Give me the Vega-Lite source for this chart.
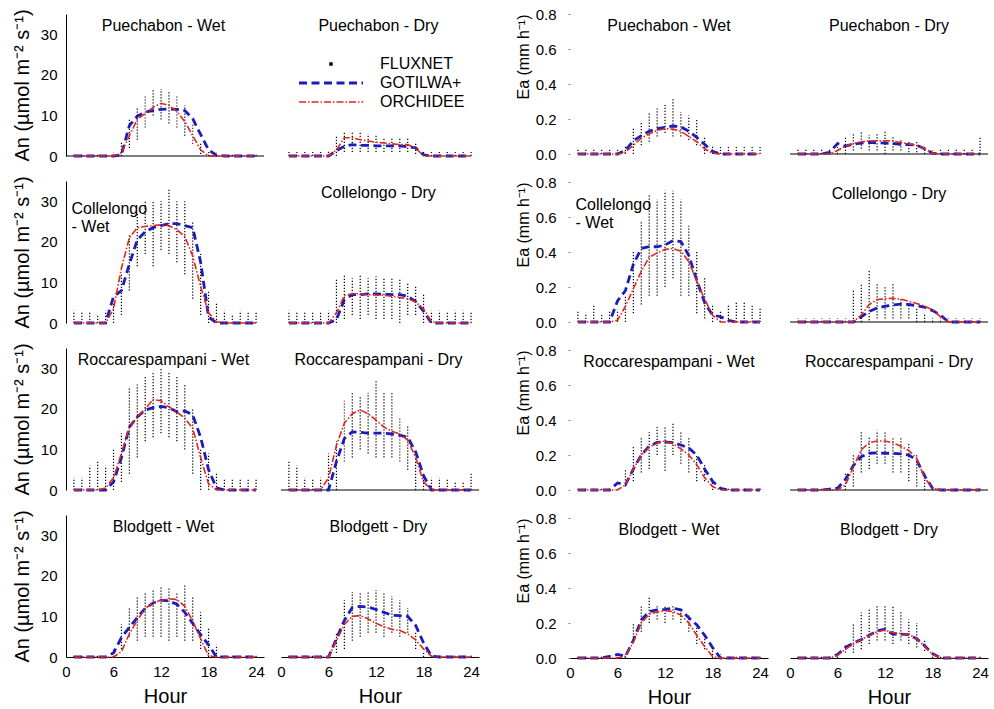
{
"$schema":"https://vega.github.io/schema/vega-lite/v6.json",
"padding":{"left":12,"top":7,"right":0,"bottom":0},
"config":{"view":{"stroke":null},"font":"Liberation Sans","axis":{"grid":false,"domainColor":"black","labelColor":"black","titleColor":"black","titleFontWeight":"normal","labelFont":"Liberation Sans","titleFont":"Liberation Sans","labelOverlap":false},"header":{"labels":false,"title":null},"concat":{"spacing":35}},
"datasets":{
"an":[
{"p":"Puechabon - Wet","h":1,"lo":0,"hi":0.6,"GOTILWA+":0,"ORCHIDEE":0},
{"p":"Puechabon - Wet","h":2,"lo":0,"hi":0.6,"GOTILWA+":0,"ORCHIDEE":0},
{"p":"Puechabon - Wet","h":3,"lo":0,"hi":0.6,"GOTILWA+":0,"ORCHIDEE":0},
{"p":"Puechabon - Wet","h":4,"lo":0,"hi":0.6,"GOTILWA+":0,"ORCHIDEE":0},
{"p":"Puechabon - Wet","h":5,"lo":0,"hi":0.6,"GOTILWA+":0,"ORCHIDEE":0},
{"p":"Puechabon - Wet","h":6,"lo":0,"hi":0.8,"GOTILWA+":0,"ORCHIDEE":0},
{"p":"Puechabon - Wet","h":7,"lo":0,"hi":3.5,"GOTILWA+":0.3,"ORCHIDEE":0.8},
{"p":"Puechabon - Wet","h":8,"lo":2,"hi":9,"GOTILWA+":7.5,"ORCHIDEE":5},
{"p":"Puechabon - Wet","h":9,"lo":4,"hi":12,"GOTILWA+":9.8,"ORCHIDEE":9},
{"p":"Puechabon - Wet","h":10,"lo":7,"hi":15,"GOTILWA+":10.8,"ORCHIDEE":10.5},
{"p":"Puechabon - Wet","h":11,"lo":10,"hi":16.5,"GOTILWA+":11.2,"ORCHIDEE":12},
{"p":"Puechabon - Wet","h":12,"lo":9,"hi":16.5,"GOTILWA+":11.5,"ORCHIDEE":13},
{"p":"Puechabon - Wet","h":13,"lo":8,"hi":16,"GOTILWA+":11.6,"ORCHIDEE":12.5},
{"p":"Puechabon - Wet","h":14,"lo":7,"hi":15,"GOTILWA+":11.5,"ORCHIDEE":11},
{"p":"Puechabon - Wet","h":15,"lo":5,"hi":12.5,"GOTILWA+":11.2,"ORCHIDEE":8.5},
{"p":"Puechabon - Wet","h":16,"lo":3,"hi":8,"GOTILWA+":9.2,"ORCHIDEE":5},
{"p":"Puechabon - Wet","h":17,"lo":0.5,"hi":3,"GOTILWA+":5.3,"ORCHIDEE":1.5},
{"p":"Puechabon - Wet","h":18,"lo":0,"hi":1,"GOTILWA+":1.5,"ORCHIDEE":0},
{"p":"Puechabon - Wet","h":19,"lo":0,"hi":0.8,"GOTILWA+":0.2,"ORCHIDEE":0},
{"p":"Puechabon - Wet","h":20,"lo":0,"hi":0.6,"GOTILWA+":0,"ORCHIDEE":0},
{"p":"Puechabon - Wet","h":21,"lo":0,"hi":0.6,"GOTILWA+":0,"ORCHIDEE":0},
{"p":"Puechabon - Wet","h":22,"lo":0,"hi":0.6,"GOTILWA+":0,"ORCHIDEE":0},
{"p":"Puechabon - Wet","h":23,"lo":0,"hi":0.6,"GOTILWA+":0,"ORCHIDEE":0},
{"p":"Puechabon - Wet","h":24,"lo":0,"hi":0.6,"GOTILWA+":0,"ORCHIDEE":0},
{"p":"Puechabon - Dry","h":1,"lo":0,"hi":1,"GOTILWA+":0,"ORCHIDEE":0},
{"p":"Puechabon - Dry","h":2,"lo":0,"hi":1,"GOTILWA+":0,"ORCHIDEE":0},
{"p":"Puechabon - Dry","h":3,"lo":0,"hi":1,"GOTILWA+":0,"ORCHIDEE":0},
{"p":"Puechabon - Dry","h":4,"lo":0,"hi":1,"GOTILWA+":0,"ORCHIDEE":0},
{"p":"Puechabon - Dry","h":5,"lo":0,"hi":1,"GOTILWA+":0,"ORCHIDEE":0},
{"p":"Puechabon - Dry","h":6,"lo":0,"hi":1.5,"GOTILWA+":0,"ORCHIDEE":0},
{"p":"Puechabon - Dry","h":7,"lo":0,"hi":5,"GOTILWA+":1.3,"ORCHIDEE":1.5},
{"p":"Puechabon - Dry","h":8,"lo":1,"hi":6,"GOTILWA+":2.4,"ORCHIDEE":4.5},
{"p":"Puechabon - Dry","h":9,"lo":1,"hi":6,"GOTILWA+":2.8,"ORCHIDEE":4.5},
{"p":"Puechabon - Dry","h":10,"lo":1,"hi":6,"GOTILWA+":2.6,"ORCHIDEE":4},
{"p":"Puechabon - Dry","h":11,"lo":1,"hi":5.5,"GOTILWA+":2.6,"ORCHIDEE":3.7},
{"p":"Puechabon - Dry","h":12,"lo":1,"hi":5,"GOTILWA+":2.5,"ORCHIDEE":3.4},
{"p":"Puechabon - Dry","h":13,"lo":1,"hi":4.5,"GOTILWA+":2.5,"ORCHIDEE":3.2},
{"p":"Puechabon - Dry","h":14,"lo":1,"hi":4.5,"GOTILWA+":2.5,"ORCHIDEE":3},
{"p":"Puechabon - Dry","h":15,"lo":1,"hi":4.5,"GOTILWA+":2.5,"ORCHIDEE":2.8},
{"p":"Puechabon - Dry","h":16,"lo":1,"hi":4.5,"GOTILWA+":2.3,"ORCHIDEE":2.8},
{"p":"Puechabon - Dry","h":17,"lo":0.5,"hi":3,"GOTILWA+":2,"ORCHIDEE":2},
{"p":"Puechabon - Dry","h":18,"lo":0,"hi":1,"GOTILWA+":0.3,"ORCHIDEE":0},
{"p":"Puechabon - Dry","h":19,"lo":0,"hi":1,"GOTILWA+":0,"ORCHIDEE":0},
{"p":"Puechabon - Dry","h":20,"lo":0,"hi":1,"GOTILWA+":0,"ORCHIDEE":0},
{"p":"Puechabon - Dry","h":21,"lo":0,"hi":1,"GOTILWA+":0,"ORCHIDEE":0},
{"p":"Puechabon - Dry","h":22,"lo":0,"hi":1,"GOTILWA+":0,"ORCHIDEE":0},
{"p":"Puechabon - Dry","h":23,"lo":0,"hi":1,"GOTILWA+":0,"ORCHIDEE":0},
{"p":"Puechabon - Dry","h":24,"lo":0,"hi":1,"GOTILWA+":0,"ORCHIDEE":0},
{"p":"Collelongo - Wet","h":1,"lo":0,"hi":3,"GOTILWA+":0,"ORCHIDEE":0},
{"p":"Collelongo - Wet","h":2,"lo":0,"hi":2.5,"GOTILWA+":0,"ORCHIDEE":0},
{"p":"Collelongo - Wet","h":3,"lo":0,"hi":2.5,"GOTILWA+":0,"ORCHIDEE":0},
{"p":"Collelongo - Wet","h":4,"lo":0,"hi":2,"GOTILWA+":0,"ORCHIDEE":0},
{"p":"Collelongo - Wet","h":5,"lo":0,"hi":3,"GOTILWA+":0,"ORCHIDEE":0},
{"p":"Collelongo - Wet","h":6,"lo":0,"hi":5,"GOTILWA+":6.5,"ORCHIDEE":3.5},
{"p":"Collelongo - Wet","h":7,"lo":2,"hi":12,"GOTILWA+":8,"ORCHIDEE":13.5},
{"p":"Collelongo - Wet","h":8,"lo":8,"hi":22,"GOTILWA+":14.5,"ORCHIDEE":21},
{"p":"Collelongo - Wet","h":9,"lo":14,"hi":27,"GOTILWA+":20.5,"ORCHIDEE":23.5},
{"p":"Collelongo - Wet","h":10,"lo":17,"hi":30,"GOTILWA+":22.5,"ORCHIDEE":23.8},
{"p":"Collelongo - Wet","h":11,"lo":14,"hi":30,"GOTILWA+":23.5,"ORCHIDEE":24},
{"p":"Collelongo - Wet","h":12,"lo":18,"hi":30,"GOTILWA+":24,"ORCHIDEE":24.2},
{"p":"Collelongo - Wet","h":13,"lo":17,"hi":33,"GOTILWA+":24.5,"ORCHIDEE":24},
{"p":"Collelongo - Wet","h":14,"lo":15,"hi":30,"GOTILWA+":24.5,"ORCHIDEE":23},
{"p":"Collelongo - Wet","h":15,"lo":12,"hi":30,"GOTILWA+":24,"ORCHIDEE":21.3},
{"p":"Collelongo - Wet","h":16,"lo":6,"hi":25,"GOTILWA+":23.5,"ORCHIDEE":16.5},
{"p":"Collelongo - Wet","h":17,"lo":2,"hi":17,"GOTILWA+":15,"ORCHIDEE":9},
{"p":"Collelongo - Wet","h":18,"lo":0,"hi":8,"GOTILWA+":1.5,"ORCHIDEE":2.5},
{"p":"Collelongo - Wet","h":19,"lo":0,"hi":5,"GOTILWA+":0,"ORCHIDEE":0.3},
{"p":"Collelongo - Wet","h":20,"lo":0,"hi":3,"GOTILWA+":0,"ORCHIDEE":0},
{"p":"Collelongo - Wet","h":21,"lo":0,"hi":2,"GOTILWA+":0,"ORCHIDEE":0},
{"p":"Collelongo - Wet","h":22,"lo":0,"hi":3,"GOTILWA+":0,"ORCHIDEE":0},
{"p":"Collelongo - Wet","h":23,"lo":0,"hi":2.5,"GOTILWA+":0,"ORCHIDEE":0},
{"p":"Collelongo - Wet","h":24,"lo":0,"hi":2.5,"GOTILWA+":0,"ORCHIDEE":0},
{"p":"Collelongo - Dry","h":1,"lo":0,"hi":3,"GOTILWA+":0,"ORCHIDEE":0},
{"p":"Collelongo - Dry","h":2,"lo":0,"hi":2.5,"GOTILWA+":0,"ORCHIDEE":0},
{"p":"Collelongo - Dry","h":3,"lo":0,"hi":2.5,"GOTILWA+":0,"ORCHIDEE":0},
{"p":"Collelongo - Dry","h":4,"lo":0,"hi":2.5,"GOTILWA+":0,"ORCHIDEE":0},
{"p":"Collelongo - Dry","h":5,"lo":0,"hi":2.5,"GOTILWA+":0,"ORCHIDEE":0},
{"p":"Collelongo - Dry","h":6,"lo":0,"hi":3,"GOTILWA+":0,"ORCHIDEE":0},
{"p":"Collelongo - Dry","h":7,"lo":0,"hi":11,"GOTILWA+":0.8,"ORCHIDEE":2.5},
{"p":"Collelongo - Dry","h":8,"lo":1,"hi":12,"GOTILWA+":5.8,"ORCHIDEE":6.8},
{"p":"Collelongo - Dry","h":9,"lo":2,"hi":11,"GOTILWA+":7,"ORCHIDEE":7.2},
{"p":"Collelongo - Dry","h":10,"lo":1,"hi":12,"GOTILWA+":7,"ORCHIDEE":7.2},
{"p":"Collelongo - Dry","h":11,"lo":2,"hi":11,"GOTILWA+":7.2,"ORCHIDEE":7},
{"p":"Collelongo - Dry","h":12,"lo":1,"hi":11.5,"GOTILWA+":7.2,"ORCHIDEE":6.9},
{"p":"Collelongo - Dry","h":13,"lo":1,"hi":11,"GOTILWA+":7.1,"ORCHIDEE":6.8},
{"p":"Collelongo - Dry","h":14,"lo":1,"hi":11,"GOTILWA+":7,"ORCHIDEE":6.6},
{"p":"Collelongo - Dry","h":15,"lo":0,"hi":11,"GOTILWA+":7,"ORCHIDEE":6.3},
{"p":"Collelongo - Dry","h":16,"lo":2,"hi":10,"GOTILWA+":6.6,"ORCHIDEE":6},
{"p":"Collelongo - Dry","h":17,"lo":2,"hi":9,"GOTILWA+":5.3,"ORCHIDEE":5.2},
{"p":"Collelongo - Dry","h":18,"lo":0,"hi":7,"GOTILWA+":2.9,"ORCHIDEE":3.5},
{"p":"Collelongo - Dry","h":19,"lo":0,"hi":3,"GOTILWA+":0,"ORCHIDEE":0.3},
{"p":"Collelongo - Dry","h":20,"lo":0,"hi":3,"GOTILWA+":0,"ORCHIDEE":0},
{"p":"Collelongo - Dry","h":21,"lo":0,"hi":2.5,"GOTILWA+":0,"ORCHIDEE":0},
{"p":"Collelongo - Dry","h":22,"lo":0,"hi":3,"GOTILWA+":0,"ORCHIDEE":0},
{"p":"Collelongo - Dry","h":23,"lo":0,"hi":3,"GOTILWA+":0,"ORCHIDEE":0},
{"p":"Collelongo - Dry","h":24,"lo":0,"hi":2.5,"GOTILWA+":0,"ORCHIDEE":0},
{"p":"Roccarespampani - Wet","h":1,"lo":0,"hi":3,"GOTILWA+":0,"ORCHIDEE":0},
{"p":"Roccarespampani - Wet","h":2,"lo":0,"hi":3,"GOTILWA+":0,"ORCHIDEE":0},
{"p":"Roccarespampani - Wet","h":3,"lo":0,"hi":6,"GOTILWA+":0,"ORCHIDEE":0},
{"p":"Roccarespampani - Wet","h":4,"lo":0,"hi":7,"GOTILWA+":0,"ORCHIDEE":0},
{"p":"Roccarespampani - Wet","h":5,"lo":0,"hi":6,"GOTILWA+":0,"ORCHIDEE":0.5},
{"p":"Roccarespampani - Wet","h":6,"lo":0,"hi":10,"GOTILWA+":2,"ORCHIDEE":3},
{"p":"Roccarespampani - Wet","h":7,"lo":2,"hi":14,"GOTILWA+":8,"ORCHIDEE":9},
{"p":"Roccarespampani - Wet","h":8,"lo":4,"hi":25,"GOTILWA+":15.5,"ORCHIDEE":15.5},
{"p":"Roccarespampani - Wet","h":9,"lo":8,"hi":26,"GOTILWA+":18,"ORCHIDEE":18},
{"p":"Roccarespampani - Wet","h":10,"lo":12,"hi":28,"GOTILWA+":19.7,"ORCHIDEE":20},
{"p":"Roccarespampani - Wet","h":11,"lo":13,"hi":29,"GOTILWA+":20.3,"ORCHIDEE":22.3},
{"p":"Roccarespampani - Wet","h":12,"lo":14,"hi":30,"GOTILWA+":20.6,"ORCHIDEE":22},
{"p":"Roccarespampani - Wet","h":13,"lo":13,"hi":29,"GOTILWA+":20.3,"ORCHIDEE":20.5},
{"p":"Roccarespampani - Wet","h":14,"lo":12,"hi":28,"GOTILWA+":19.3,"ORCHIDEE":19.2},
{"p":"Roccarespampani - Wet","h":15,"lo":10,"hi":26,"GOTILWA+":19.5,"ORCHIDEE":17.7},
{"p":"Roccarespampani - Wet","h":16,"lo":4,"hi":20,"GOTILWA+":18.5,"ORCHIDEE":15.2},
{"p":"Roccarespampani - Wet","h":17,"lo":0,"hi":10,"GOTILWA+":13,"ORCHIDEE":8},
{"p":"Roccarespampani - Wet","h":18,"lo":0,"hi":9,"GOTILWA+":5,"ORCHIDEE":1.5},
{"p":"Roccarespampani - Wet","h":19,"lo":0,"hi":4,"GOTILWA+":0.5,"ORCHIDEE":0},
{"p":"Roccarespampani - Wet","h":20,"lo":0,"hi":2.5,"GOTILWA+":0,"ORCHIDEE":0},
{"p":"Roccarespampani - Wet","h":21,"lo":0,"hi":2.5,"GOTILWA+":0,"ORCHIDEE":0},
{"p":"Roccarespampani - Wet","h":22,"lo":0,"hi":2.5,"GOTILWA+":0,"ORCHIDEE":0},
{"p":"Roccarespampani - Wet","h":23,"lo":0,"hi":2.5,"GOTILWA+":0,"ORCHIDEE":0},
{"p":"Roccarespampani - Wet","h":24,"lo":0,"hi":2.5,"GOTILWA+":0,"ORCHIDEE":0},
{"p":"Roccarespampani - Dry","h":1,"lo":0,"hi":7,"GOTILWA+":0,"ORCHIDEE":0},
{"p":"Roccarespampani - Dry","h":2,"lo":0,"hi":6,"GOTILWA+":0,"ORCHIDEE":0},
{"p":"Roccarespampani - Dry","h":3,"lo":0,"hi":3,"GOTILWA+":0,"ORCHIDEE":0},
{"p":"Roccarespampani - Dry","h":4,"lo":0,"hi":2.5,"GOTILWA+":0,"ORCHIDEE":0},
{"p":"Roccarespampani - Dry","h":5,"lo":0,"hi":3,"GOTILWA+":0,"ORCHIDEE":0},
{"p":"Roccarespampani - Dry","h":6,"lo":0,"hi":9,"GOTILWA+":0,"ORCHIDEE":3},
{"p":"Roccarespampani - Dry","h":7,"lo":0,"hi":12,"GOTILWA+":7,"ORCHIDEE":11},
{"p":"Roccarespampani - Dry","h":8,"lo":7,"hi":22,"GOTILWA+":12.7,"ORCHIDEE":16.5},
{"p":"Roccarespampani - Dry","h":9,"lo":8,"hi":24,"GOTILWA+":14.3,"ORCHIDEE":18.8},
{"p":"Roccarespampani - Dry","h":10,"lo":10,"hi":23,"GOTILWA+":14.2,"ORCHIDEE":19.7},
{"p":"Roccarespampani - Dry","h":11,"lo":9,"hi":24,"GOTILWA+":14,"ORCHIDEE":18.8},
{"p":"Roccarespampani - Dry","h":12,"lo":8,"hi":27,"GOTILWA+":14,"ORCHIDEE":17.2},
{"p":"Roccarespampani - Dry","h":13,"lo":8,"hi":24,"GOTILWA+":14,"ORCHIDEE":15.5},
{"p":"Roccarespampani - Dry","h":14,"lo":8,"hi":24,"GOTILWA+":13.8,"ORCHIDEE":14.5},
{"p":"Roccarespampani - Dry","h":15,"lo":7,"hi":18,"GOTILWA+":13.5,"ORCHIDEE":13.8},
{"p":"Roccarespampani - Dry","h":16,"lo":5,"hi":16,"GOTILWA+":13,"ORCHIDEE":12.3},
{"p":"Roccarespampani - Dry","h":17,"lo":0,"hi":8,"GOTILWA+":9.4,"ORCHIDEE":8},
{"p":"Roccarespampani - Dry","h":18,"lo":0,"hi":4,"GOTILWA+":3.5,"ORCHIDEE":2},
{"p":"Roccarespampani - Dry","h":19,"lo":0,"hi":3,"GOTILWA+":0,"ORCHIDEE":0},
{"p":"Roccarespampani - Dry","h":20,"lo":0,"hi":3,"GOTILWA+":0,"ORCHIDEE":0},
{"p":"Roccarespampani - Dry","h":21,"lo":0,"hi":2.5,"GOTILWA+":0,"ORCHIDEE":0},
{"p":"Roccarespampani - Dry","h":22,"lo":0,"hi":2,"GOTILWA+":0,"ORCHIDEE":0},
{"p":"Roccarespampani - Dry","h":23,"lo":0,"hi":2,"GOTILWA+":0,"ORCHIDEE":0},
{"p":"Roccarespampani - Dry","h":24,"lo":0,"hi":4,"GOTILWA+":0,"ORCHIDEE":0},
{"p":"Blodgett - Wet","h":1,"lo":0,"hi":0.3,"GOTILWA+":0,"ORCHIDEE":0},
{"p":"Blodgett - Wet","h":2,"lo":0,"hi":0.3,"GOTILWA+":0,"ORCHIDEE":0},
{"p":"Blodgett - Wet","h":3,"lo":0,"hi":0.3,"GOTILWA+":0,"ORCHIDEE":0},
{"p":"Blodgett - Wet","h":4,"lo":0,"hi":0.3,"GOTILWA+":0,"ORCHIDEE":0},
{"p":"Blodgett - Wet","h":5,"lo":0,"hi":0.3,"GOTILWA+":0,"ORCHIDEE":0},
{"p":"Blodgett - Wet","h":6,"lo":0,"hi":2,"GOTILWA+":1,"ORCHIDEE":0},
{"p":"Blodgett - Wet","h":7,"lo":2,"hi":8,"GOTILWA+":4.8,"ORCHIDEE":1.3},
{"p":"Blodgett - Wet","h":8,"lo":5,"hi":12,"GOTILWA+":7.3,"ORCHIDEE":5.7},
{"p":"Blodgett - Wet","h":9,"lo":4,"hi":15,"GOTILWA+":9.7,"ORCHIDEE":9},
{"p":"Blodgett - Wet","h":10,"lo":5,"hi":16,"GOTILWA+":12,"ORCHIDEE":12},
{"p":"Blodgett - Wet","h":11,"lo":5,"hi":16.5,"GOTILWA+":13.3,"ORCHIDEE":13.3},
{"p":"Blodgett - Wet","h":12,"lo":5,"hi":17.5,"GOTILWA+":14,"ORCHIDEE":14},
{"p":"Blodgett - Wet","h":13,"lo":4,"hi":17,"GOTILWA+":13.8,"ORCHIDEE":14.3},
{"p":"Blodgett - Wet","h":14,"lo":5,"hi":16,"GOTILWA+":13,"ORCHIDEE":14.2},
{"p":"Blodgett - Wet","h":15,"lo":4,"hi":18,"GOTILWA+":11,"ORCHIDEE":12.5},
{"p":"Blodgett - Wet","h":16,"lo":4,"hi":15,"GOTILWA+":8.3,"ORCHIDEE":8.8},
{"p":"Blodgett - Wet","h":17,"lo":2,"hi":11,"GOTILWA+":5.5,"ORCHIDEE":4.5},
{"p":"Blodgett - Wet","h":18,"lo":0,"hi":7,"GOTILWA+":3,"ORCHIDEE":0.3},
{"p":"Blodgett - Wet","h":19,"lo":0,"hi":3,"GOTILWA+":0,"ORCHIDEE":0},
{"p":"Blodgett - Wet","h":20,"lo":0,"hi":0.3,"GOTILWA+":0,"ORCHIDEE":0},
{"p":"Blodgett - Wet","h":21,"lo":0,"hi":0.3,"GOTILWA+":0,"ORCHIDEE":0},
{"p":"Blodgett - Wet","h":22,"lo":0,"hi":0.3,"GOTILWA+":0,"ORCHIDEE":0},
{"p":"Blodgett - Wet","h":23,"lo":0,"hi":0.3,"GOTILWA+":0,"ORCHIDEE":0},
{"p":"Blodgett - Wet","h":24,"lo":0,"hi":0.3,"GOTILWA+":0,"ORCHIDEE":0},
{"p":"Blodgett - Dry","h":1,"lo":0,"hi":0.3,"GOTILWA+":0,"ORCHIDEE":0},
{"p":"Blodgett - Dry","h":2,"lo":0,"hi":0.3,"GOTILWA+":0,"ORCHIDEE":0},
{"p":"Blodgett - Dry","h":3,"lo":0,"hi":0.3,"GOTILWA+":0,"ORCHIDEE":0},
{"p":"Blodgett - Dry","h":4,"lo":0,"hi":0.3,"GOTILWA+":0,"ORCHIDEE":0},
{"p":"Blodgett - Dry","h":5,"lo":0,"hi":0.3,"GOTILWA+":0,"ORCHIDEE":0},
{"p":"Blodgett - Dry","h":6,"lo":0,"hi":0.5,"GOTILWA+":0,"ORCHIDEE":0},
{"p":"Blodgett - Dry","h":7,"lo":1,"hi":6,"GOTILWA+":4.5,"ORCHIDEE":4},
{"p":"Blodgett - Dry","h":8,"lo":2,"hi":14,"GOTILWA+":9,"ORCHIDEE":8},
{"p":"Blodgett - Dry","h":9,"lo":4,"hi":16,"GOTILWA+":12.2,"ORCHIDEE":10},
{"p":"Blodgett - Dry","h":10,"lo":5,"hi":16,"GOTILWA+":12.5,"ORCHIDEE":10.2},
{"p":"Blodgett - Dry","h":11,"lo":6,"hi":16,"GOTILWA+":12.3,"ORCHIDEE":9.4},
{"p":"Blodgett - Dry","h":12,"lo":6,"hi":16.5,"GOTILWA+":11.7,"ORCHIDEE":8.3},
{"p":"Blodgett - Dry","h":13,"lo":5,"hi":16,"GOTILWA+":11,"ORCHIDEE":7.5},
{"p":"Blodgett - Dry","h":14,"lo":6,"hi":15,"GOTILWA+":10.3,"ORCHIDEE":6.8},
{"p":"Blodgett - Dry","h":15,"lo":5,"hi":14,"GOTILWA+":10.2,"ORCHIDEE":6.5},
{"p":"Blodgett - Dry","h":16,"lo":6,"hi":12,"GOTILWA+":10,"ORCHIDEE":5.7},
{"p":"Blodgett - Dry","h":17,"lo":2,"hi":6,"GOTILWA+":7.8,"ORCHIDEE":4.2},
{"p":"Blodgett - Dry","h":18,"lo":0,"hi":1,"GOTILWA+":3.5,"ORCHIDEE":2},
{"p":"Blodgett - Dry","h":19,"lo":0,"hi":0.3,"GOTILWA+":0.2,"ORCHIDEE":0.2},
{"p":"Blodgett - Dry","h":20,"lo":0,"hi":0.3,"GOTILWA+":0,"ORCHIDEE":0},
{"p":"Blodgett - Dry","h":21,"lo":0,"hi":0.3,"GOTILWA+":0,"ORCHIDEE":0},
{"p":"Blodgett - Dry","h":22,"lo":0,"hi":0.3,"GOTILWA+":0,"ORCHIDEE":0},
{"p":"Blodgett - Dry","h":23,"lo":0,"hi":0.3,"GOTILWA+":0,"ORCHIDEE":0},
{"p":"Blodgett - Dry","h":24,"lo":0,"hi":0.3,"GOTILWA+":0,"ORCHIDEE":0}
],
"ea":[
{"p":"Puechabon - Wet","h":1,"lo":0,"hi":0.03,"GOTILWA+":0,"ORCHIDEE":0},
{"p":"Puechabon - Wet","h":2,"lo":0,"hi":0.03,"GOTILWA+":0,"ORCHIDEE":0},
{"p":"Puechabon - Wet","h":3,"lo":0,"hi":0.03,"GOTILWA+":0,"ORCHIDEE":0},
{"p":"Puechabon - Wet","h":4,"lo":0,"hi":0.03,"GOTILWA+":0,"ORCHIDEE":0},
{"p":"Puechabon - Wet","h":5,"lo":0,"hi":0.03,"GOTILWA+":0,"ORCHIDEE":0},
{"p":"Puechabon - Wet","h":6,"lo":0,"hi":0.03,"GOTILWA+":0,"ORCHIDEE":0},
{"p":"Puechabon - Wet","h":7,"lo":0,"hi":0.05,"GOTILWA+":0.02,"ORCHIDEE":0.01},
{"p":"Puechabon - Wet","h":8,"lo":0,"hi":0.15,"GOTILWA+":0.075,"ORCHIDEE":0.05},
{"p":"Puechabon - Wet","h":9,"lo":0.05,"hi":0.18,"GOTILWA+":0.105,"ORCHIDEE":0.09},
{"p":"Puechabon - Wet","h":10,"lo":0.07,"hi":0.24,"GOTILWA+":0.13,"ORCHIDEE":0.115},
{"p":"Puechabon - Wet","h":11,"lo":0.1,"hi":0.26,"GOTILWA+":0.145,"ORCHIDEE":0.135},
{"p":"Puechabon - Wet","h":12,"lo":0.12,"hi":0.28,"GOTILWA+":0.152,"ORCHIDEE":0.145},
{"p":"Puechabon - Wet","h":13,"lo":0.1,"hi":0.32,"GOTILWA+":0.16,"ORCHIDEE":0.142},
{"p":"Puechabon - Wet","h":14,"lo":0.1,"hi":0.24,"GOTILWA+":0.155,"ORCHIDEE":0.13},
{"p":"Puechabon - Wet","h":15,"lo":0.08,"hi":0.22,"GOTILWA+":0.13,"ORCHIDEE":0.1},
{"p":"Puechabon - Wet","h":16,"lo":0.05,"hi":0.2,"GOTILWA+":0.095,"ORCHIDEE":0.07},
{"p":"Puechabon - Wet","h":17,"lo":0,"hi":0.1,"GOTILWA+":0.055,"ORCHIDEE":0.03},
{"p":"Puechabon - Wet","h":18,"lo":0,"hi":0.05,"GOTILWA+":0.015,"ORCHIDEE":0.005},
{"p":"Puechabon - Wet","h":19,"lo":0,"hi":0.04,"GOTILWA+":0,"ORCHIDEE":0},
{"p":"Puechabon - Wet","h":20,"lo":0,"hi":0.04,"GOTILWA+":0,"ORCHIDEE":0},
{"p":"Puechabon - Wet","h":21,"lo":0,"hi":0.04,"GOTILWA+":0,"ORCHIDEE":0},
{"p":"Puechabon - Wet","h":22,"lo":0,"hi":0.04,"GOTILWA+":0,"ORCHIDEE":0},
{"p":"Puechabon - Wet","h":23,"lo":0,"hi":0.04,"GOTILWA+":0,"ORCHIDEE":0},
{"p":"Puechabon - Wet","h":24,"lo":0,"hi":0.04,"GOTILWA+":0,"ORCHIDEE":0},
{"p":"Puechabon - Dry","h":1,"lo":0,"hi":0.03,"GOTILWA+":0,"ORCHIDEE":0},
{"p":"Puechabon - Dry","h":2,"lo":0,"hi":0.03,"GOTILWA+":0,"ORCHIDEE":0},
{"p":"Puechabon - Dry","h":3,"lo":0,"hi":0.03,"GOTILWA+":0,"ORCHIDEE":0},
{"p":"Puechabon - Dry","h":4,"lo":0,"hi":0.03,"GOTILWA+":0,"ORCHIDEE":0},
{"p":"Puechabon - Dry","h":5,"lo":0,"hi":0.03,"GOTILWA+":0.01,"ORCHIDEE":0},
{"p":"Puechabon - Dry","h":6,"lo":0,"hi":0.04,"GOTILWA+":0.06,"ORCHIDEE":0.02},
{"p":"Puechabon - Dry","h":7,"lo":0,"hi":0.1,"GOTILWA+":0.045,"ORCHIDEE":0.045},
{"p":"Puechabon - Dry","h":8,"lo":0.02,"hi":0.12,"GOTILWA+":0.057,"ORCHIDEE":0.06},
{"p":"Puechabon - Dry","h":9,"lo":0.03,"hi":0.13,"GOTILWA+":0.062,"ORCHIDEE":0.07},
{"p":"Puechabon - Dry","h":10,"lo":0.02,"hi":0.11,"GOTILWA+":0.066,"ORCHIDEE":0.075},
{"p":"Puechabon - Dry","h":11,"lo":0.02,"hi":0.12,"GOTILWA+":0.064,"ORCHIDEE":0.076},
{"p":"Puechabon - Dry","h":12,"lo":0,"hi":0.13,"GOTILWA+":0.062,"ORCHIDEE":0.076},
{"p":"Puechabon - Dry","h":13,"lo":0.02,"hi":0.1,"GOTILWA+":0.06,"ORCHIDEE":0.074},
{"p":"Puechabon - Dry","h":14,"lo":0.02,"hi":0.08,"GOTILWA+":0.055,"ORCHIDEE":0.066},
{"p":"Puechabon - Dry","h":15,"lo":0.01,"hi":0.07,"GOTILWA+":0.054,"ORCHIDEE":0.057},
{"p":"Puechabon - Dry","h":16,"lo":0.01,"hi":0.07,"GOTILWA+":0.05,"ORCHIDEE":0.05},
{"p":"Puechabon - Dry","h":17,"lo":0,"hi":0.04,"GOTILWA+":0.03,"ORCHIDEE":0.03},
{"p":"Puechabon - Dry","h":18,"lo":0,"hi":0.02,"GOTILWA+":0.005,"ORCHIDEE":0.005},
{"p":"Puechabon - Dry","h":19,"lo":0,"hi":0.03,"GOTILWA+":0,"ORCHIDEE":0},
{"p":"Puechabon - Dry","h":20,"lo":0,"hi":0.03,"GOTILWA+":0,"ORCHIDEE":0},
{"p":"Puechabon - Dry","h":21,"lo":0,"hi":0.03,"GOTILWA+":0,"ORCHIDEE":0},
{"p":"Puechabon - Dry","h":22,"lo":0,"hi":0.03,"GOTILWA+":0,"ORCHIDEE":0},
{"p":"Puechabon - Dry","h":23,"lo":0,"hi":0.03,"GOTILWA+":0,"ORCHIDEE":0},
{"p":"Puechabon - Dry","h":24,"lo":0,"hi":0.1,"GOTILWA+":0,"ORCHIDEE":0},
{"p":"Collelongo - Wet","h":1,"lo":0,"hi":0.06,"GOTILWA+":0,"ORCHIDEE":0},
{"p":"Collelongo - Wet","h":2,"lo":0,"hi":0.05,"GOTILWA+":0,"ORCHIDEE":0},
{"p":"Collelongo - Wet","h":3,"lo":0,"hi":0.1,"GOTILWA+":0,"ORCHIDEE":0},
{"p":"Collelongo - Wet","h":4,"lo":0,"hi":0.04,"GOTILWA+":0,"ORCHIDEE":0},
{"p":"Collelongo - Wet","h":5,"lo":0,"hi":0.06,"GOTILWA+":0,"ORCHIDEE":0},
{"p":"Collelongo - Wet","h":6,"lo":0,"hi":0.07,"GOTILWA+":0.12,"ORCHIDEE":0.01},
{"p":"Collelongo - Wet","h":7,"lo":0,"hi":0.15,"GOTILWA+":0.18,"ORCHIDEE":0.09},
{"p":"Collelongo - Wet","h":8,"lo":0.05,"hi":0.4,"GOTILWA+":0.33,"ORCHIDEE":0.19},
{"p":"Collelongo - Wet","h":9,"lo":0.1,"hi":0.58,"GOTILWA+":0.42,"ORCHIDEE":0.29},
{"p":"Collelongo - Wet","h":10,"lo":0.15,"hi":0.73,"GOTILWA+":0.43,"ORCHIDEE":0.37},
{"p":"Collelongo - Wet","h":11,"lo":0.15,"hi":0.7,"GOTILWA+":0.43,"ORCHIDEE":0.395},
{"p":"Collelongo - Wet","h":12,"lo":0.2,"hi":0.75,"GOTILWA+":0.44,"ORCHIDEE":0.415},
{"p":"Collelongo - Wet","h":13,"lo":0.25,"hi":0.75,"GOTILWA+":0.465,"ORCHIDEE":0.42},
{"p":"Collelongo - Wet","h":14,"lo":0.15,"hi":0.7,"GOTILWA+":0.46,"ORCHIDEE":0.405},
{"p":"Collelongo - Wet","h":15,"lo":0.15,"hi":0.55,"GOTILWA+":0.38,"ORCHIDEE":0.345},
{"p":"Collelongo - Wet","h":16,"lo":0.05,"hi":0.4,"GOTILWA+":0.24,"ORCHIDEE":0.235},
{"p":"Collelongo - Wet","h":17,"lo":0.02,"hi":0.25,"GOTILWA+":0.11,"ORCHIDEE":0.13},
{"p":"Collelongo - Wet","h":18,"lo":0,"hi":0.1,"GOTILWA+":0.04,"ORCHIDEE":0.04},
{"p":"Collelongo - Wet","h":19,"lo":0,"hi":0.06,"GOTILWA+":0.03,"ORCHIDEE":0},
{"p":"Collelongo - Wet","h":20,"lo":0,"hi":0.1,"GOTILWA+":0.01,"ORCHIDEE":0},
{"p":"Collelongo - Wet","h":21,"lo":0,"hi":0.12,"GOTILWA+":0,"ORCHIDEE":0},
{"p":"Collelongo - Wet","h":22,"lo":0,"hi":0.12,"GOTILWA+":0,"ORCHIDEE":0},
{"p":"Collelongo - Wet","h":23,"lo":0,"hi":0.1,"GOTILWA+":0,"ORCHIDEE":0},
{"p":"Collelongo - Wet","h":24,"lo":0,"hi":0.08,"GOTILWA+":0,"ORCHIDEE":0},
{"p":"Collelongo - Dry","h":1,"lo":0,"hi":0.02,"GOTILWA+":0,"ORCHIDEE":0},
{"p":"Collelongo - Dry","h":2,"lo":0,"hi":0.02,"GOTILWA+":0,"ORCHIDEE":0},
{"p":"Collelongo - Dry","h":3,"lo":0,"hi":0.02,"GOTILWA+":0,"ORCHIDEE":0},
{"p":"Collelongo - Dry","h":4,"lo":0,"hi":0.02,"GOTILWA+":0,"ORCHIDEE":0},
{"p":"Collelongo - Dry","h":5,"lo":0,"hi":0.02,"GOTILWA+":0,"ORCHIDEE":0},
{"p":"Collelongo - Dry","h":6,"lo":0,"hi":0.02,"GOTILWA+":0,"ORCHIDEE":0},
{"p":"Collelongo - Dry","h":7,"lo":0,"hi":0.02,"GOTILWA+":0,"ORCHIDEE":0},
{"p":"Collelongo - Dry","h":8,"lo":0,"hi":0.18,"GOTILWA+":0,"ORCHIDEE":0},
{"p":"Collelongo - Dry","h":9,"lo":0,"hi":0.22,"GOTILWA+":0.03,"ORCHIDEE":0.04},
{"p":"Collelongo - Dry","h":10,"lo":0.01,"hi":0.3,"GOTILWA+":0.06,"ORCHIDEE":0.1},
{"p":"Collelongo - Dry","h":11,"lo":0.02,"hi":0.22,"GOTILWA+":0.08,"ORCHIDEE":0.128},
{"p":"Collelongo - Dry","h":12,"lo":0.02,"hi":0.2,"GOTILWA+":0.09,"ORCHIDEE":0.133},
{"p":"Collelongo - Dry","h":13,"lo":0.02,"hi":0.22,"GOTILWA+":0.097,"ORCHIDEE":0.135},
{"p":"Collelongo - Dry","h":14,"lo":0.02,"hi":0.14,"GOTILWA+":0.102,"ORCHIDEE":0.13},
{"p":"Collelongo - Dry","h":15,"lo":0.02,"hi":0.1,"GOTILWA+":0.1,"ORCHIDEE":0.118},
{"p":"Collelongo - Dry","h":16,"lo":0,"hi":0.08,"GOTILWA+":0.092,"ORCHIDEE":0.106},
{"p":"Collelongo - Dry","h":17,"lo":0,"hi":0.05,"GOTILWA+":0.085,"ORCHIDEE":0.09},
{"p":"Collelongo - Dry","h":18,"lo":0,"hi":0.02,"GOTILWA+":0.065,"ORCHIDEE":0.07},
{"p":"Collelongo - Dry","h":19,"lo":0,"hi":0.02,"GOTILWA+":0.04,"ORCHIDEE":0.03},
{"p":"Collelongo - Dry","h":20,"lo":0,"hi":0.02,"GOTILWA+":0,"ORCHIDEE":0},
{"p":"Collelongo - Dry","h":21,"lo":0,"hi":0.02,"GOTILWA+":0,"ORCHIDEE":0},
{"p":"Collelongo - Dry","h":22,"lo":0,"hi":0.02,"GOTILWA+":0,"ORCHIDEE":0},
{"p":"Collelongo - Dry","h":23,"lo":0,"hi":0.02,"GOTILWA+":0,"ORCHIDEE":0},
{"p":"Collelongo - Dry","h":24,"lo":0,"hi":0.02,"GOTILWA+":0,"ORCHIDEE":0},
{"p":"Roccarespampani - Wet","h":1,"lo":0,"hi":0.015,"GOTILWA+":0,"ORCHIDEE":0},
{"p":"Roccarespampani - Wet","h":2,"lo":0,"hi":0.015,"GOTILWA+":0,"ORCHIDEE":0},
{"p":"Roccarespampani - Wet","h":3,"lo":0,"hi":0.015,"GOTILWA+":0,"ORCHIDEE":0},
{"p":"Roccarespampani - Wet","h":4,"lo":0,"hi":0.015,"GOTILWA+":0,"ORCHIDEE":0},
{"p":"Roccarespampani - Wet","h":5,"lo":0,"hi":0.015,"GOTILWA+":0,"ORCHIDEE":0},
{"p":"Roccarespampani - Wet","h":6,"lo":0,"hi":0.015,"GOTILWA+":0.04,"ORCHIDEE":0},
{"p":"Roccarespampani - Wet","h":7,"lo":0.02,"hi":0.12,"GOTILWA+":0.03,"ORCHIDEE":0.03},
{"p":"Roccarespampani - Wet","h":8,"lo":0.05,"hi":0.25,"GOTILWA+":0.12,"ORCHIDEE":0.12},
{"p":"Roccarespampani - Wet","h":9,"lo":0.1,"hi":0.3,"GOTILWA+":0.2,"ORCHIDEE":0.2},
{"p":"Roccarespampani - Wet","h":10,"lo":0.12,"hi":0.33,"GOTILWA+":0.25,"ORCHIDEE":0.245},
{"p":"Roccarespampani - Wet","h":11,"lo":0.2,"hi":0.36,"GOTILWA+":0.272,"ORCHIDEE":0.268},
{"p":"Roccarespampani - Wet","h":12,"lo":0.11,"hi":0.36,"GOTILWA+":0.275,"ORCHIDEE":0.28},
{"p":"Roccarespampani - Wet","h":13,"lo":0.2,"hi":0.38,"GOTILWA+":0.27,"ORCHIDEE":0.265},
{"p":"Roccarespampani - Wet","h":14,"lo":0.15,"hi":0.33,"GOTILWA+":0.257,"ORCHIDEE":0.235},
{"p":"Roccarespampani - Wet","h":15,"lo":0.1,"hi":0.3,"GOTILWA+":0.24,"ORCHIDEE":0.2},
{"p":"Roccarespampani - Wet","h":16,"lo":0.05,"hi":0.2,"GOTILWA+":0.2,"ORCHIDEE":0.145},
{"p":"Roccarespampani - Wet","h":17,"lo":0.05,"hi":0.15,"GOTILWA+":0.12,"ORCHIDEE":0.07},
{"p":"Roccarespampani - Wet","h":18,"lo":0,"hi":0.05,"GOTILWA+":0.05,"ORCHIDEE":0.02},
{"p":"Roccarespampani - Wet","h":19,"lo":0,"hi":0.015,"GOTILWA+":0.01,"ORCHIDEE":0},
{"p":"Roccarespampani - Wet","h":20,"lo":0,"hi":0.015,"GOTILWA+":0,"ORCHIDEE":0},
{"p":"Roccarespampani - Wet","h":21,"lo":0,"hi":0.015,"GOTILWA+":0,"ORCHIDEE":0},
{"p":"Roccarespampani - Wet","h":22,"lo":0,"hi":0.015,"GOTILWA+":0,"ORCHIDEE":0},
{"p":"Roccarespampani - Wet","h":23,"lo":0,"hi":0.015,"GOTILWA+":0,"ORCHIDEE":0},
{"p":"Roccarespampani - Wet","h":24,"lo":0,"hi":0.015,"GOTILWA+":0,"ORCHIDEE":0},
{"p":"Roccarespampani - Dry","h":1,"lo":0,"hi":0.01,"GOTILWA+":0,"ORCHIDEE":0},
{"p":"Roccarespampani - Dry","h":2,"lo":0,"hi":0.01,"GOTILWA+":0,"ORCHIDEE":0},
{"p":"Roccarespampani - Dry","h":3,"lo":0,"hi":0.01,"GOTILWA+":0,"ORCHIDEE":0},
{"p":"Roccarespampani - Dry","h":4,"lo":0,"hi":0.01,"GOTILWA+":0,"ORCHIDEE":0},
{"p":"Roccarespampani - Dry","h":5,"lo":0,"hi":0.01,"GOTILWA+":0.005,"ORCHIDEE":0},
{"p":"Roccarespampani - Dry","h":6,"lo":0,"hi":0.01,"GOTILWA+":0.01,"ORCHIDEE":0},
{"p":"Roccarespampani - Dry","h":7,"lo":0,"hi":0.1,"GOTILWA+":0.06,"ORCHIDEE":0.03},
{"p":"Roccarespampani - Dry","h":8,"lo":0.02,"hi":0.2,"GOTILWA+":0.14,"ORCHIDEE":0.13},
{"p":"Roccarespampani - Dry","h":9,"lo":0.1,"hi":0.34,"GOTILWA+":0.19,"ORCHIDEE":0.23},
{"p":"Roccarespampani - Dry","h":10,"lo":0.12,"hi":0.3,"GOTILWA+":0.21,"ORCHIDEE":0.27},
{"p":"Roccarespampani - Dry","h":11,"lo":0.15,"hi":0.34,"GOTILWA+":0.212,"ORCHIDEE":0.28},
{"p":"Roccarespampani - Dry","h":12,"lo":0.15,"hi":0.33,"GOTILWA+":0.21,"ORCHIDEE":0.28},
{"p":"Roccarespampani - Dry","h":13,"lo":0.1,"hi":0.3,"GOTILWA+":0.21,"ORCHIDEE":0.27},
{"p":"Roccarespampani - Dry","h":14,"lo":0.1,"hi":0.3,"GOTILWA+":0.207,"ORCHIDEE":0.25},
{"p":"Roccarespampani - Dry","h":15,"lo":0.05,"hi":0.27,"GOTILWA+":0.2,"ORCHIDEE":0.226},
{"p":"Roccarespampani - Dry","h":16,"lo":0.02,"hi":0.2,"GOTILWA+":0.17,"ORCHIDEE":0.18},
{"p":"Roccarespampani - Dry","h":17,"lo":0,"hi":0.1,"GOTILWA+":0.08,"ORCHIDEE":0.07},
{"p":"Roccarespampani - Dry","h":18,"lo":0,"hi":0.01,"GOTILWA+":0.01,"ORCHIDEE":0.01},
{"p":"Roccarespampani - Dry","h":19,"lo":0,"hi":0.01,"GOTILWA+":0,"ORCHIDEE":0},
{"p":"Roccarespampani - Dry","h":20,"lo":0,"hi":0.01,"GOTILWA+":0,"ORCHIDEE":0},
{"p":"Roccarespampani - Dry","h":21,"lo":0,"hi":0.01,"GOTILWA+":0,"ORCHIDEE":0},
{"p":"Roccarespampani - Dry","h":22,"lo":0,"hi":0.01,"GOTILWA+":0,"ORCHIDEE":0},
{"p":"Roccarespampani - Dry","h":23,"lo":0,"hi":0.01,"GOTILWA+":0,"ORCHIDEE":0},
{"p":"Roccarespampani - Dry","h":24,"lo":0,"hi":0.01,"GOTILWA+":0,"ORCHIDEE":0},
{"p":"Blodgett - Wet","h":1,"lo":0,"hi":0.01,"GOTILWA+":0,"ORCHIDEE":0},
{"p":"Blodgett - Wet","h":2,"lo":0,"hi":0.01,"GOTILWA+":0,"ORCHIDEE":0},
{"p":"Blodgett - Wet","h":3,"lo":0,"hi":0.01,"GOTILWA+":0,"ORCHIDEE":0},
{"p":"Blodgett - Wet","h":4,"lo":0,"hi":0.01,"GOTILWA+":0,"ORCHIDEE":0},
{"p":"Blodgett - Wet","h":5,"lo":0,"hi":0.01,"GOTILWA+":0.01,"ORCHIDEE":0},
{"p":"Blodgett - Wet","h":6,"lo":0,"hi":0.01,"GOTILWA+":0.02,"ORCHIDEE":0},
{"p":"Blodgett - Wet","h":7,"lo":0,"hi":0.02,"GOTILWA+":0.01,"ORCHIDEE":0.01},
{"p":"Blodgett - Wet","h":8,"lo":0.1,"hi":0.2,"GOTILWA+":0.1,"ORCHIDEE":0.09},
{"p":"Blodgett - Wet","h":9,"lo":0.15,"hi":0.3,"GOTILWA+":0.217,"ORCHIDEE":0.2},
{"p":"Blodgett - Wet","h":10,"lo":0.2,"hi":0.35,"GOTILWA+":0.265,"ORCHIDEE":0.25},
{"p":"Blodgett - Wet","h":11,"lo":0.22,"hi":0.3,"GOTILWA+":0.275,"ORCHIDEE":0.263},
{"p":"Blodgett - Wet","h":12,"lo":0.2,"hi":0.3,"GOTILWA+":0.278,"ORCHIDEE":0.27},
{"p":"Blodgett - Wet","h":13,"lo":0.22,"hi":0.3,"GOTILWA+":0.285,"ORCHIDEE":0.266},
{"p":"Blodgett - Wet","h":14,"lo":0.2,"hi":0.27,"GOTILWA+":0.275,"ORCHIDEE":0.245},
{"p":"Blodgett - Wet","h":15,"lo":0.15,"hi":0.25,"GOTILWA+":0.23,"ORCHIDEE":0.2},
{"p":"Blodgett - Wet","h":16,"lo":0.08,"hi":0.18,"GOTILWA+":0.19,"ORCHIDEE":0.13},
{"p":"Blodgett - Wet","h":17,"lo":0.05,"hi":0.12,"GOTILWA+":0.13,"ORCHIDEE":0.065},
{"p":"Blodgett - Wet","h":18,"lo":0,"hi":0.06,"GOTILWA+":0.06,"ORCHIDEE":0.008},
{"p":"Blodgett - Wet","h":19,"lo":0,"hi":0.02,"GOTILWA+":0,"ORCHIDEE":0},
{"p":"Blodgett - Wet","h":20,"lo":0,"hi":0.01,"GOTILWA+":0,"ORCHIDEE":0},
{"p":"Blodgett - Wet","h":21,"lo":0,"hi":0.01,"GOTILWA+":0,"ORCHIDEE":0},
{"p":"Blodgett - Wet","h":22,"lo":0,"hi":0.01,"GOTILWA+":0,"ORCHIDEE":0},
{"p":"Blodgett - Wet","h":23,"lo":0,"hi":0.01,"GOTILWA+":0,"ORCHIDEE":0},
{"p":"Blodgett - Wet","h":24,"lo":0,"hi":0.01,"GOTILWA+":0,"ORCHIDEE":0},
{"p":"Blodgett - Dry","h":1,"lo":0,"hi":0.01,"GOTILWA+":0,"ORCHIDEE":0},
{"p":"Blodgett - Dry","h":2,"lo":0,"hi":0.01,"GOTILWA+":0,"ORCHIDEE":0},
{"p":"Blodgett - Dry","h":3,"lo":0,"hi":0.01,"GOTILWA+":0,"ORCHIDEE":0},
{"p":"Blodgett - Dry","h":4,"lo":0,"hi":0.01,"GOTILWA+":0,"ORCHIDEE":0},
{"p":"Blodgett - Dry","h":5,"lo":0,"hi":0.01,"GOTILWA+":0,"ORCHIDEE":0},
{"p":"Blodgett - Dry","h":6,"lo":0,"hi":0.02,"GOTILWA+":0.02,"ORCHIDEE":0.015},
{"p":"Blodgett - Dry","h":7,"lo":0.03,"hi":0.08,"GOTILWA+":0.06,"ORCHIDEE":0.05},
{"p":"Blodgett - Dry","h":8,"lo":0.03,"hi":0.2,"GOTILWA+":0.085,"ORCHIDEE":0.08},
{"p":"Blodgett - Dry","h":9,"lo":0.05,"hi":0.26,"GOTILWA+":0.105,"ORCHIDEE":0.105},
{"p":"Blodgett - Dry","h":10,"lo":0.08,"hi":0.28,"GOTILWA+":0.13,"ORCHIDEE":0.13},
{"p":"Blodgett - Dry","h":11,"lo":0.1,"hi":0.3,"GOTILWA+":0.155,"ORCHIDEE":0.15},
{"p":"Blodgett - Dry","h":12,"lo":0.1,"hi":0.3,"GOTILWA+":0.165,"ORCHIDEE":0.16},
{"p":"Blodgett - Dry","h":13,"lo":0.08,"hi":0.3,"GOTILWA+":0.135,"ORCHIDEE":0.145},
{"p":"Blodgett - Dry","h":14,"lo":0.1,"hi":0.27,"GOTILWA+":0.137,"ORCHIDEE":0.14},
{"p":"Blodgett - Dry","h":15,"lo":0.08,"hi":0.22,"GOTILWA+":0.133,"ORCHIDEE":0.135},
{"p":"Blodgett - Dry","h":16,"lo":0.06,"hi":0.2,"GOTILWA+":0.11,"ORCHIDEE":0.11},
{"p":"Blodgett - Dry","h":17,"lo":0.04,"hi":0.1,"GOTILWA+":0.07,"ORCHIDEE":0.065},
{"p":"Blodgett - Dry","h":18,"lo":0,"hi":0.03,"GOTILWA+":0.025,"ORCHIDEE":0.02},
{"p":"Blodgett - Dry","h":19,"lo":0,"hi":0.01,"GOTILWA+":0,"ORCHIDEE":0},
{"p":"Blodgett - Dry","h":20,"lo":0,"hi":0.01,"GOTILWA+":0,"ORCHIDEE":0},
{"p":"Blodgett - Dry","h":21,"lo":0,"hi":0.01,"GOTILWA+":0,"ORCHIDEE":0},
{"p":"Blodgett - Dry","h":22,"lo":0,"hi":0.01,"GOTILWA+":0,"ORCHIDEE":0},
{"p":"Blodgett - Dry","h":23,"lo":0,"hi":0.01,"GOTILWA+":0,"ORCHIDEE":0},
{"p":"Blodgett - Dry","h":24,"lo":0,"hi":0.01,"GOTILWA+":0,"ORCHIDEE":0}
]},
"hconcat":[
{
"data":{"name":"an"},
"transform":[{"calculate":"split(datum.p, ' - ')[0]","as":"site"},{"calculate":"split(datum.p, ' - ')[1]","as":"cond"}],
"facet":{
 "row":{"field":"site","type":"nominal","sort":["Puechabon","Collelongo","Roccarespampani","Blodgett"],"header":{"labels":false,"title":null}},
 "column":{"field":"cond","type":"nominal","sort":["Wet","Dry"],"header":{"labels":false,"title":null}}},
"spacing":{"row":25,"column":17},
"bounds":"flush",
"spec":{
"width":198,"height":142,
"layer":[
{"mark":{"type":"rule","color":"black","strokeDash":[1.2,1.8],"strokeWidth":1.2},
 "encoding":{
  "x":{"field":"h","type":"quantitative","scale":{"domain":[0,25],"nice":false},"axis":{"values":[0,6,12,18,24],"ticks":false,"labelPadding":7,"labelFontSize":15,"title":"Hour","titleFontSize":20,"titlePadding":7,"labelFlush":false}},
  "y":{"field":"lo","type":"quantitative","scale":{"domain":[0,35],"nice":false},"title":"An (µmol m⁻² s⁻¹)","axis":{"values":[0,10,20,30],"tickCount":10,"ticks":false,"labelPadding":9,"labelFontSize":15,"titleFontSize":20,"titlePadding":8}},
  "y2":{"field":"hi"}}},
{"transform":[{"filter":{"and":[{"field":"h","equal":12},{"field":"p","oneOf":["Puechabon - Wet","Roccarespampani - Dry"]}]}}],
 "mark":{"type":"rule","color":"black","strokeWidth":1},
 "encoding":{"y":{"datum":0}}},
{"mark":{"type":"line","strokeDash":[8,4.5],"strokeWidth":2.8},
 "encoding":{
  "x":{"field":"h","type":"quantitative"},
  "y":{"field":"GOTILWA+","type":"quantitative","title":"An (µmol m⁻² s⁻¹)"},
  "color":{"datum":"GOTILWA+","scale":{"domain":["FLUXNET","GOTILWA+","ORCHIDEE"],"range":["black","#1c1cb8","#e0261e"]},
   "legend":{"orient":"none","legendX":257,"legendY":42,"title":null,"symbolType":"stroke","symbolSize":4096,"rowPadding":3,"labelFontSize":16,"labelFont":"Liberation Sans","labelColor":"black","labelOffset":41,"symbolStrokeWidth":2.5,
    "encode":{"symbols":{"update":{
      "strokeDash":{"signal":"datum.value == 'GOTILWA+' ? [8,4.5] : datum.value == 'ORCHIDEE' ? [7,2,1.5,2] : [1,0]"},
      "strokeWidth":{"signal":"datum.value == 'GOTILWA+' ? 2.8 : datum.value == 'ORCHIDEE' ? 1.6 : 1"},
      "shape":{"signal":"datum.value == 'FLUXNET' ? 'M-0.04,-0.04H0.04V0.04H-0.04Z' : 'stroke'"},
      "fill":{"signal":"datum.value == 'FLUXNET' ? 'black' : 'transparent'"}}}}}}}},
{"mark":{"type":"line","strokeDash":[7,2,1.5,2],"strokeWidth":1.6},
 "encoding":{
  "x":{"field":"h","type":"quantitative"},
  "y":{"field":"ORCHIDEE","type":"quantitative","title":"An (µmol m⁻² s⁻¹)"},
  "color":{"datum":"ORCHIDEE"}}},
{"transform":[{"filter":{"and":[{"field":"h","equal":12},{"not":{"field":"p","equal":"Collelongo - Wet"}}]}}],
 "mark":{"type":"text","fontSize":16,"font":"Liberation Sans","color":"black","align":"center","baseline":"middle"},
 "encoding":{"x":{"datum":12.3},"y":{"datum":32},"text":{"field":"p"}}},
{"transform":[{"filter":{"and":[{"field":"h","equal":12},{"field":"p","equal":"Collelongo - Wet"}]}},{"calculate":"[split(datum.p, ' - ')[0], ' - ' + split(datum.p, ' - ')[1]]","as":"lbl"}],
 "mark":{"type":"text","fontSize":16,"font":"Liberation Sans","color":"black","align":"left","baseline":"middle","lineHeight":18},
 "encoding":{"x":{"datum":0.7},"y":{"datum":28},"text":{"field":"lbl"}}}
]}
},
{
"data":{"name":"ea"},
"transform":[{"calculate":"split(datum.p, ' - ')[0]","as":"site"},{"calculate":"split(datum.p, ' - ')[1]","as":"cond"}],
"facet":{
 "row":{"field":"site","type":"nominal","sort":["Puechabon","Collelongo","Roccarespampani","Blodgett"],"header":{"labels":false,"title":null}},
 "column":{"field":"cond","type":"nominal","sort":["Wet","Dry"],"header":{"labels":false,"title":null}}},
"spacing":{"row":28,"column":22},
"bounds":"flush",
"spec":{
"width":198,"height":140,
"layer":[
{"mark":{"type":"rule","color":"black","strokeDash":[1.2,1.8],"strokeWidth":1.2},
 "encoding":{
  "x":{"field":"h","type":"quantitative","scale":{"domain":[0,25],"nice":false},"axis":{"values":[0,6,12,18,24],"ticks":false,"labelPadding":7,"labelFontSize":15,"title":"Hour","titleFontSize":20,"titlePadding":7,"labelFlush":false}},
  "y":{"field":"lo","type":"quantitative","scale":{"domain":[0,0.8],"nice":false},"title":"Ea (mm h⁻¹)","axis":{"values":[0,0.2,0.4,0.6,0.8],"tickCount":10,"format":".1f","domain":false,"tickSize":2,"tickColor":"#888","labelPadding":12,"labelFontSize":15,"titleFontSize":16,"titlePadding":4,"titleAnchor":"end","labelOverlap":false}},
  "y2":{"field":"hi"}}},
{"transform":[{"filter":{"and":[{"field":"h","equal":12},{"field":"p","oneOf":["Puechabon - Dry","Collelongo - Dry","Roccarespampani - Dry"]}]}}],
 "mark":{"type":"rule","color":"black","strokeWidth":1},
 "encoding":{"y":{"datum":0}}},
{"mark":{"type":"line","strokeDash":[8,4.5],"strokeWidth":2.8},
 "encoding":{
  "x":{"field":"h","type":"quantitative"},
  "y":{"field":"GOTILWA+","type":"quantitative","title":"Ea (mm h⁻¹)"},
  "color":{"datum":"GOTILWA+"}}},
{"mark":{"type":"line","strokeDash":[7,2,1.5,2],"strokeWidth":1.6},
 "encoding":{
  "x":{"field":"h","type":"quantitative"},
  "y":{"field":"ORCHIDEE","type":"quantitative","title":"Ea (mm h⁻¹)"},
  "color":{"datum":"ORCHIDEE"}}},
{"transform":[{"filter":{"and":[{"field":"h","equal":12},{"not":{"field":"p","equal":"Collelongo - Wet"}}]}}],
 "mark":{"type":"text","fontSize":16,"font":"Liberation Sans","color":"black","align":"center","baseline":"middle"},
 "encoding":{"x":{"datum":12.5},"y":{"datum":0.73},"text":{"field":"p"}}},
{"transform":[{"filter":{"and":[{"field":"h","equal":12},{"field":"p","equal":"Collelongo - Wet"}]}},{"calculate":"[split(datum.p, ' - ')[0], ' - ' + split(datum.p, ' - ')[1]]","as":"lbl"}],
 "mark":{"type":"text","fontSize":16,"font":"Liberation Sans","color":"black","align":"left","baseline":"middle","lineHeight":18},
 "encoding":{"x":{"datum":0.7},"y":{"datum":0.67},"text":{"field":"lbl"}}}
]}
}
]
}
